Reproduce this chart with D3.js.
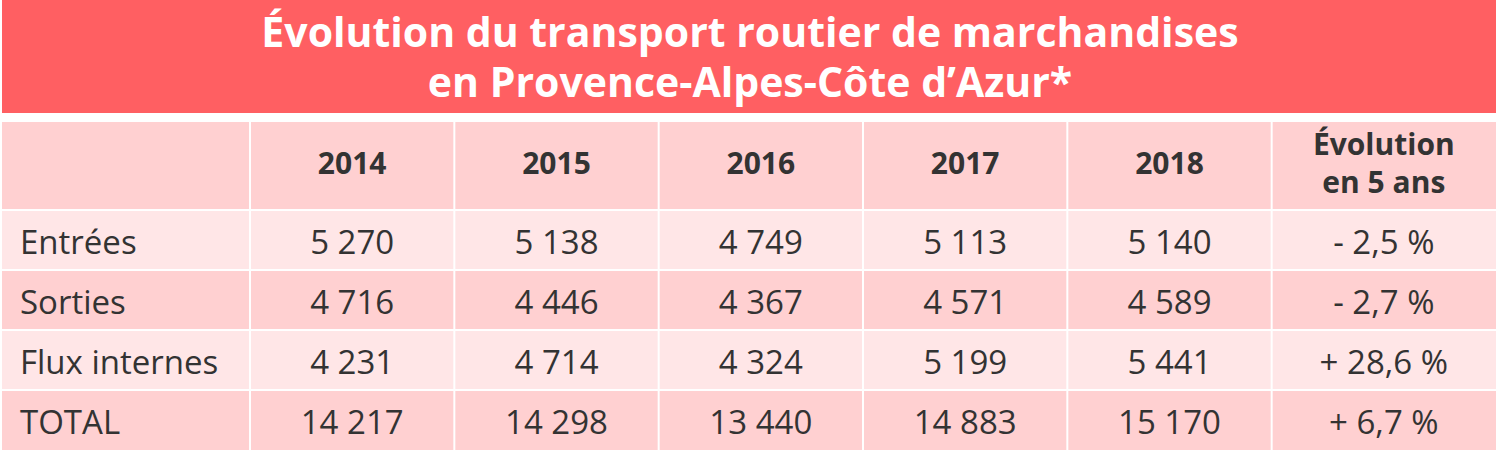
<!DOCTYPE html>
<html><head><meta charset="utf-8">
<script src="https://cdn.jsdelivr.net/npm/d3@7"></script>
<style>
html,body{margin:0;padding:0;background:#fff;}
svg{display:block;font-family:"Open Sans",sans-serif;}
</style></head>
<body>
<svg id="c" width="1496" height="450"></svg>
<script>
const titleLines = ["Évolution du transport routier de marchandises", "en Provence-Alpes-Côte d’Azur*"];
const years = ["2014", "2015", "2016", "2017", "2018"];
const evolHeader = ["Évolution", "en 5 ans"];
const rowLabels = ["Entrées", "Sorties", "Flux internes", "TOTAL"];
const entrees = [5270, 5138, 4749, 5113, 5140];
const sorties = [4716, 4446, 4367, 4571, 4589];
const fluxInternes = [4231, 4714, 4324, 5199, 5441];
const total = [14217, 14298, 13440, 14883, 15170];
const evolution = ["- 2,5 %", "- 2,7 %", "+ 28,6 %", "+ 6,7 %"];

const series = [entrees, sorties, fluxInternes, total];
const W = 1496, H = 450;
const svg = d3.select("#c");
const fmt = v => { const s = String(v); return s.length > 3 ? s.slice(0, -3) + "\u00a0" + s.slice(-3) : s; };

const cols = [...years, "evol"];
const x = d3.scaleBand().domain(cols).range([250, 1476]);
const y = d3.scaleBand().domain(rowLabels).range([210, 450]);

const C_TITLE = "#ff5f62", C_DARK = "#ffd0d1", C_LIGHT = "#ffe6e7", C_TEXT = "#333333";

// title band
svg.append("rect").attr("x", 2).attr("y", 0).attr("width", W - 2).attr("height", 113).attr("fill", C_TITLE);
svg.append("text").attr("x", 750).attr("text-anchor", "middle").attr("fill", "#fff")
  .attr("font-weight", 700).attr("font-size", 41)
  .selectAll("tspan").data(titleLines).join("tspan")
  .attr("x", 750).attr("y", (d, i) => 47 + i * 50).text(d => d);

// header row
const colEdges = c => {
  const x0 = c === "label" ? 2 : x(c);
  const x1 = c === "label" ? 250 : (c === "evol" ? W : x(c) + x.bandwidth());
  return [x0 + (c === "label" ? 0 : 1), x1 - (c === "evol" ? 0 : 1)];
};
const allCols = ["label", ...cols];
const hdr = svg.append("g");
hdr.selectAll("rect").data(allCols).join("rect")
  .attr("x", d => colEdges(d)[0]).attr("width", d => colEdges(d)[1] - colEdges(d)[0])
  .attr("y", 122).attr("height", 87).attr("fill", C_DARK);
hdr.selectAll("text.yr").data(years).join("text").attr("class", "yr")
  .attr("x", d => x(d) + x.bandwidth() / 2).attr("y", 174)
  .attr("text-anchor", "middle").attr("font-weight", 700).attr("font-size", 30).attr("fill", C_TEXT)
  .text(d => d);
hdr.append("text").attr("text-anchor", "middle").attr("font-weight", 700).attr("font-size", 30).attr("fill", C_TEXT)
  .selectAll("tspan").data(evolHeader).join("tspan")
  .attr("x", (x("evol") + W) / 2).attr("y", (d, i) => 155 + i * 38).text(d => d);

// body rows
rowLabels.forEach((lab, r) => {
  const g = svg.append("g");
  const y0 = y(lab) + 1, h = y.bandwidth() - 2 + (r === rowLabels.length - 1 ? 1 : 0);
  const fill = r % 2 === 0 ? C_LIGHT : C_DARK;
  g.selectAll("rect").data(allCols).join("rect")
    .attr("x", d => colEdges(d)[0]).attr("width", d => colEdges(d)[1] - colEdges(d)[0])
    .attr("y", y0).attr("height", h).attr("fill", fill);
  const ty = y(lab) + y.bandwidth() / 2 + 14;
  g.append("text").attr("x", 20).attr("y", ty).attr("font-size", 33).attr("fill", C_TEXT).text(lab);
  g.selectAll("text.v").data(series[r]).join("text").attr("class", "v")
    .attr("x", (d, i) => x(years[i]) + x.bandwidth() / 2).attr("y", ty)
    .attr("text-anchor", "middle").attr("font-size", 33).attr("fill", C_TEXT)
    .text(d => fmt(d));
  g.append("text").attr("x", (x("evol") + W) / 2).attr("y", ty)
    .attr("text-anchor", "middle").attr("font-size", 33).attr("fill", C_TEXT).text(evolution[r]);
});
</script>
</body></html>
